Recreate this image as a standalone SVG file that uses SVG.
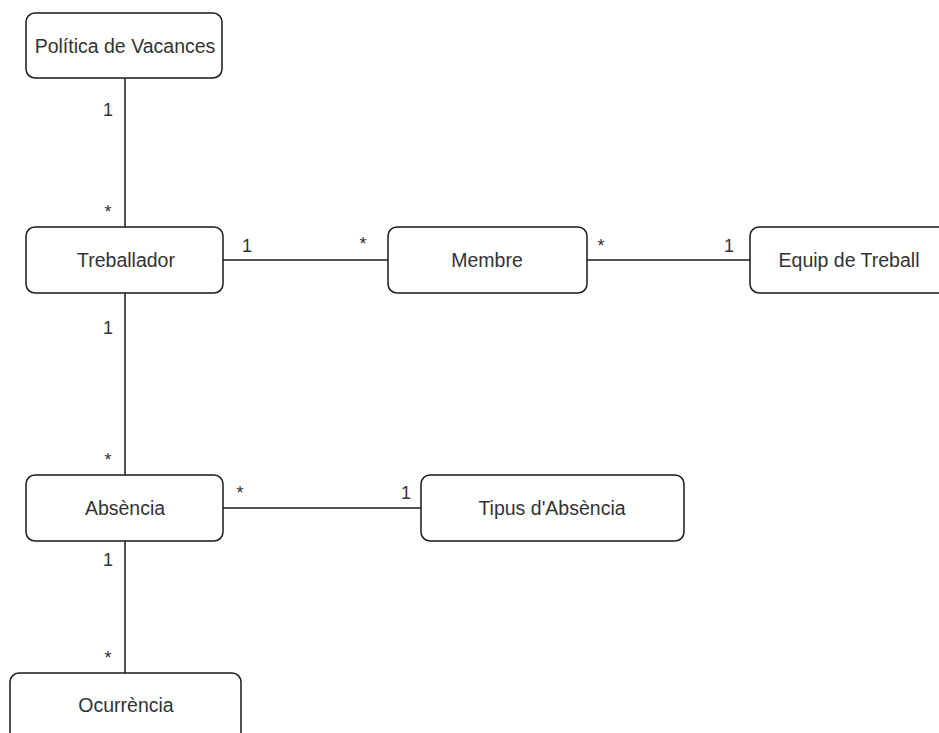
<svg xmlns="http://www.w3.org/2000/svg" width="939" height="733" viewBox="0 0 939 733">
<style>
.box{fill:#fff;stroke:#1a1a1a;stroke-width:1.5}
.lbl{font-family:"Liberation Sans",Arial,sans-serif;font-size:19.5px;fill:#333;text-anchor:middle;dominant-baseline:central}
.card{font-family:"Liberation Sans",Arial,sans-serif;font-size:18px;fill:#333;text-anchor:middle;dominant-baseline:central}
.edge{stroke:#1a1a1a;stroke-width:1.5;fill:none}
</style>
<rect width="939" height="733" fill="#fff"/>
<g id="connectors">
<line class="edge" x1="125" y1="78" x2="125" y2="227"/>
<line class="edge" x1="223" y1="260" x2="388" y2="260"/>
<line class="edge" x1="587" y1="260" x2="750" y2="260"/>
<line class="edge" x1="125" y1="293" x2="125" y2="475"/>
<line class="edge" x1="223" y1="508" x2="421" y2="508"/>
<line class="edge" x1="125" y1="541" x2="125" y2="673"/>
<text class="card" x="108" y="110">1</text>
<text class="card" x="108" y="212">*</text>
<text class="card" x="247" y="246">1</text>
<text class="card" x="363" y="244">*</text>
<text class="card" x="601" y="246">*</text>
<text class="card" x="729" y="246">1</text>
<text class="card" x="108" y="328">1</text>
<text class="card" x="108" y="460">*</text>
<text class="card" x="240" y="493">*</text>
<text class="card" x="406" y="493">1</text>
<text class="card" x="108" y="560">1</text>
<text class="card" x="108" y="658">*</text>
</g>
<g id="politica">
<rect class="box" x="26" y="13" width="196" height="65" rx="9"/>
<text class="lbl" x="125" y="46">Política de Vacances</text>
</g>
<g id="treballador">
<rect class="box" x="26" y="227" width="197" height="66" rx="9"/>
<text class="lbl" x="126" y="260">Treballador</text>
</g>
<g id="membre">
<rect class="box" x="388" y="227" width="199" height="66" rx="9"/>
<text class="lbl" x="487" y="260">Membre</text>
</g>
<g id="equip">
<rect class="box" x="750" y="227" width="200" height="66" rx="9"/>
<text class="lbl" x="849" y="260">Equip de Treball</text>
</g>
<g id="absencia">
<rect class="box" x="26" y="475" width="197" height="66" rx="9"/>
<text class="lbl" x="125" y="508">Absència</text>
</g>
<g id="tipus">
<rect class="box" x="421" y="475" width="263" height="66" rx="9"/>
<text class="lbl" x="552" y="508">Tipus d'Absència</text>
</g>
<g id="ocurrencia">
<rect class="box" x="10" y="673" width="231" height="70" rx="9"/>
<text class="lbl" x="126" y="705">Ocurrència</text>
</g>
</svg>
